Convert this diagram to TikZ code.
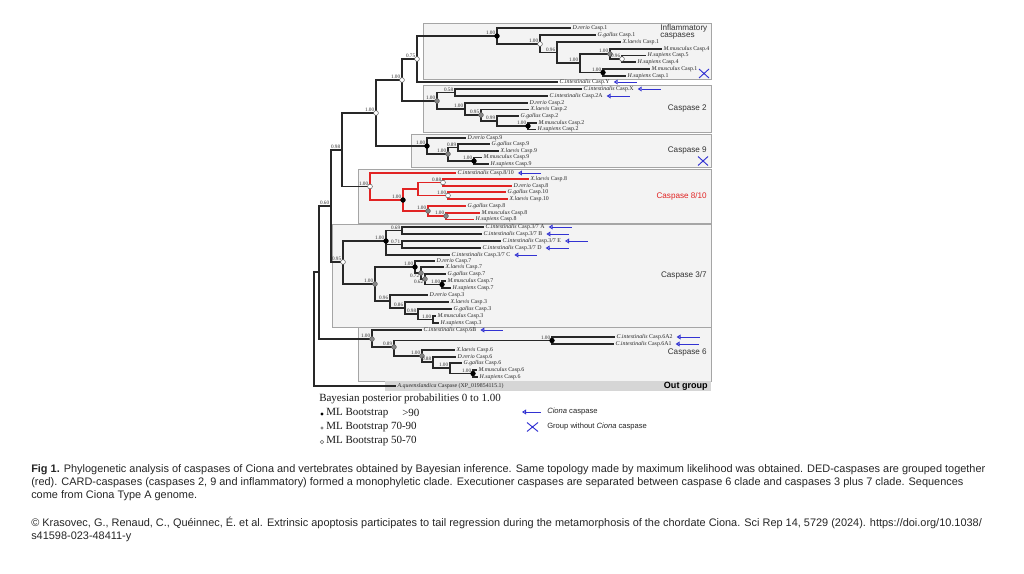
\documentclass[tikz,border=0pt]{standalone}
\usepackage{fontspec}
\setmainfont{Liberation Serif}
\setsansfont{Liberation Sans}
\usetikzlibrary{arrows.meta,calc}
\definecolor{ciblue}{RGB}{50,50,210}
\definecolor{dedred}{RGB}{225,35,35}
\definecolor{boxfill}{RGB}{243,243,243}
\definecolor{boxline}{RGB}{165,165,165}
\definecolor{outfill}{RGB}{214,214,214}
\definecolor{brc}{RGB}{40,40,40}
\definecolor{mkgrey}{RGB}{135,135,135}
\newcommand\myleaf[5]{\node[sp] (#1) at (#2,#3) {\textit{#4} #5};}
\begin{document}
\begin{tikzpicture}[x=0.75pt,y=-0.75pt,
  tp/.style={inner sep=0pt,minimum size=0pt,outer sep=0pt},
  br/.style={draw=brc,line width=1pt},
  rbr/.style={draw=dedred,line width=1pt},
  sp/.style={anchor=west,inner xsep=1pt,inner ysep=0pt,font=\fontsize{4.4}{5}\selectfont,text=black!85},
  bs/.style={inner sep=0pt,anchor=south east,font=\fontsize{3.9}{4}\selectfont,text=black!80},
  mk/.style={circle,inner sep=0pt,minimum size=3.6pt,line width=0.35pt},
  mkf/.style={mk,fill=black,draw=black},
  mkg/.style={mk,fill=mkgrey,draw=mkgrey!70!black},
  mko/.style={mk,fill=white,draw=black!70},
  cladebox/.style={draw=boxline,fill=boxfill,line width=0.5pt},
  clab/.style={anchor=east,inner sep=0pt,font=\sffamily\fontsize{6.1}{7}\selectfont,text=black!80},
  ciarr/.style={draw=ciblue,line width=0.7pt,{Triangle[open,length=3pt,width=3.6pt]}-},
  crossx/.style={draw=ciblue,line width=0.7pt},
  capt/.style={anchor=west,inner sep=0pt,font=\sffamily\fontsize{8.2}{9}\selectfont,text=black!85},
  lgs/.style={anchor=west,inner sep=0pt,font=\fontsize{8.25}{9}\selectfont,text=black!90},
  lgr/.style={anchor=west,inner sep=0pt,font=\sffamily\fontsize{5.7}{6}\selectfont,text=black!85},
]
\fill[white] (0,0) rectangle (1024,574);
\useasboundingbox (0,0) rectangle (1024,574);

% clade boxes
\draw[cladebox] (423,23) rectangle (711,79);
\draw[cladebox] (423,85) rectangle (711,132);
\draw[cladebox] (411,134) rectangle (711,167);
\draw[cladebox] (358,169) rectangle (711,223);
\draw[cladebox] (332,224) rectangle (711,327);
\draw[cladebox] (358,327) rectangle (711,381);
\fill[outfill] (385,381) rectangle (711,391);

% clade labels
\node[anchor=west,inner sep=0pt,font=\sffamily\fontsize{6.1}{7}\selectfont,text=black!80] (tInf1) at (660,28) {Inflammatory};
\node[anchor=west,inner sep=0pt,font=\sffamily\fontsize{6.1}{7}\selectfont,text=black!80] (tInf2) at (660,36) {caspases};
\node[clab] (tC2) at (707,109) {Caspase 2};
\node[clab] (tC9) at (707,151) {Caspase 9};
\node[clab,text=dedred] (tC810) at (707,196) {Caspase 8/10};
\node[clab] (tC37) at (707,275) {Caspase 3/7};
\node[clab] (tC6) at (707,353) {Caspase 6};
\node[clab,font=\sffamily\bfseries\fontsize{6.8}{7}\selectfont,text=black] (tOut) at (708,386) {Out group};
\draw[crossx] (699,69) -- (709,78) (699,78) -- (709,69);
\draw[crossx] (698,156.5) -- (708,165.5) (698,165.5) -- (708,156.5);

% internal nodes
\foreach \n/\x/\y in {R/314/329, N319/319/272, N331/331/206, N342/342/150, NA/376/113, NB/402/80,
  N075/417/59, INF/497/36, I2/540/44, I3/557/52.5, I4/580/63, I6/610/54, I5/622/59, I7/603/72.5,
  C2/437/101, C2a/455/92.5, C2b/465/109, C2c/481/115, C2d/497/121, C2e/528/126,
  C9/427/146, C9b/448/154, C9c/458/147.5, C9d/474/161,
  N810/370/186.5, E6/403/200, E3/418/189, E1/443/182.5, E2/448/195.5, E4/428/211, E5/446/216,
  N343/343/262, F0/386/241, F1/402/230.5, F2/402/244.5,
  G0/375/284, G1/415/267, G2/421/273, G3/425/279, G4/442/284.5,
  H1/390/301, H2/405/308, H3/418/314, H4/433/319.5,
  C6/372/339, K0/394/347, K1/552/340.5, K2/422/356, K3/433/362, K4/450/368, K5/473/373.5}
  {\node[tp] (\n) at (\x,\y) {};}

% leaves
\myleaf{Dr1}{571}{28}{D.rerio}{Casp.1}
\myleaf{Gg1}{596}{35}{G.gallus}{Casp.1}
\myleaf{Xl1}{621}{42}{X.laevis}{Casp.1}
\myleaf{Mm4}{662}{49}{M.musculus}{Casp.4}
\myleaf{Hs5}{646}{55.5}{H.sapiens}{Casp.5}
\myleaf{Hs4}{636}{62}{H.sapiens}{Casp.4}
\myleaf{Mm1}{650}{69}{M.musculus}{Casp.1}
\myleaf{Hs1}{626}{76}{H.sapiens}{Casp.1}
\myleaf{CiY}{558}{82}{C.intestinalis}{Casp.Y}
\myleaf{CiX}{582}{89}{C.intestinalis}{Casp.X}
\myleaf{Ci2A}{548}{96}{C.intestinalis}{Casp.2A}
\myleaf{Dr2}{528}{103}{D.rerio}{Casp.2}
\myleaf{Xl2}{529}{109.5}{X.laevis}{Casp.2}
\myleaf{Gg2}{519}{116}{G.gallus}{Casp.2}
\myleaf{Mm2}{537}{123}{M.musculus}{Casp.2}
\myleaf{Hs2}{536}{129.5}{H.sapiens}{Casp.2}
\myleaf{Dr9}{466}{138}{D.rerio}{Casp.9}
\myleaf{Gg9}{490}{144}{G.gallus}{Casp.9}
\myleaf{Xl9}{499}{151}{X.laevis}{Casp.9}
\myleaf{Mm9}{482}{157.5}{M.musculus}{Casp.9}
\myleaf{Hs9}{489}{164}{H.sapiens}{Casp.9}
\myleaf{Ci810}{456}{173}{C.intestinalis}{Casp.8/10}
\myleaf{Xl8}{529}{179}{X.laevis}{Casp.8}
\myleaf{Dr8}{512}{186}{D.rerio}{Casp.8}
\myleaf{Gg10}{506}{192}{G.gallus}{Casp.10}
\myleaf{Xl10}{508}{199}{X.laevis}{Casp.10}
\myleaf{Gg8}{466}{206}{G.gallus}{Casp.8}
\myleaf{Mm8}{480}{213}{M.musculus}{Casp.8}
\myleaf{Hs8}{474}{219.5}{H.sapiens}{Casp.8}
\myleaf{CiA}{484}{227}{C.intestinalis}{Casp.3/7 A}
\myleaf{CiB}{482}{234}{C.intestinalis}{Casp.3/7 B}
\myleaf{CiE}{501}{241}{C.intestinalis}{Casp.3/7 E}
\myleaf{CiD}{481}{248}{C.intestinalis}{Casp.3/7 D}
\myleaf{CiC}{450}{255}{C.intestinalis}{Casp.3/7 C}
\myleaf{Dr7}{435}{261}{D.rerio}{Casp.7}
\myleaf{Xl7}{444}{267}{X.laevis}{Casp.7}
\myleaf{Gg7}{446}{274}{G.gallus}{Casp.7}
\myleaf{Mm7}{446}{281}{M.musculus}{Casp.7}
\myleaf{Hs7}{451}{288}{H.sapiens}{Casp.7}
\myleaf{Dr3}{428}{295}{D.rerio}{Casp.3}
\myleaf{Xl3}{449}{302}{X.laevis}{Casp.3}
\myleaf{Gg3}{452}{309}{G.gallus}{Casp.3}
\myleaf{Mm3}{436}{316}{M.musculus}{Casp.3}
\myleaf{Hs3}{439}{323}{H.sapiens}{Casp.3}
\myleaf{Ci6B}{422}{330}{C.intestinalis}{Casp.6B}
\myleaf{Ci6A2}{615}{337}{C.intestinalis}{Casp.6A2}
\myleaf{Ci6A1}{614}{344}{C.intestinalis}{Casp.6A1}
\myleaf{Xl6}{455}{350}{X.laevis}{Casp.6}
\myleaf{Dr6}{456}{357}{D.rerio}{Casp.6}
\myleaf{Gg6}{462}{363}{G.gallus}{Casp.6}
\myleaf{Mm6}{477}{370}{M.musculus}{Casp.6}
\myleaf{Hs6}{478}{377}{H.sapiens}{Casp.6}
\myleaf{Out}{396}{386}{A.queenslandica}{Caspase (XP\_019854115.1)}

% branches (black)
\foreach \p/\c in {R/N319, R/Out, N319/N331, N319/C6, N331/N342, N331/N343, N342/NA, N342/N810,
  NA/NB, NA/C9, NB/N075, NB/C2, N075/INF, N075/CiY, INF/Dr1, INF/I2, I2/Gg1, I2/I3, I3/Xl1, I3/I4,
  I4/I6, I4/I7, I6/Mm4, I6/I5, I5/Hs5, I5/Hs4, I7/Mm1, I7/Hs1,
  C2/C2a, C2/C2b, C2a/CiX, C2a/Ci2A, C2b/Dr2, C2b/C2c, C2c/Xl2, C2c/C2d, C2d/Gg2, C2d/C2e, C2e/Mm2, C2e/Hs2,
  C9/Dr9, C9/C9b, C9b/C9c, C9b/C9d, C9c/Gg9, C9c/Xl9, C9d/Mm9, C9d/Hs9,
  N343/F0, N343/G0, F0/F1, F0/F2, F0/CiC, F1/CiA, F1/CiB, F2/CiE, F2/CiD,
  G0/G1, G0/H1, G1/Dr7, G1/G2, G2/Xl7, G2/G3, G3/Gg7, G3/G4, G4/Mm7, G4/Hs7,
  H1/Dr3, H1/H2, H2/Xl3, H2/H3, H3/Gg3, H3/H4, H4/Mm3, H4/Hs3,
  C6/Ci6B, C6/K0, K0/K1, K0/K2, K1/Ci6A2, K1/Ci6A1, K2/Xl6, K2/K3, K3/Dr6, K3/K4, K4/Gg6, K4/K5, K5/Mm6, K5/Hs6}
  {\draw[br] (\p) |- (\c.west);}
% branches (red, DED caspases 8/10)
\foreach \p/\c in {N810/Ci810, N810/E6, E6/E3, E6/E4, E3/E1, E3/E2, E1/Xl8, E1/Dr8, E2/Gg10, E2/Xl10,
  E4/Gg8, E4/E5, E5/Mm8, E5/Hs8}
  {\draw[rbr] (\p) |- (\c.west);}

% Ciona arrows
\foreach \c in {CiY,CiX,Ci2A,Ci810,CiA,CiB,CiE,CiD,CiC,Ci6B,Ci6A2,Ci6A1}
  {\draw[ciarr] ($(\c.east)+(2.5,0)$) -- ++(23,0);}

% node markers
\foreach \n in {INF,I7,C2e,C9,C9d,E6,F0,G1,G4,K1,K5} {\node[mkf] (m\n) at (\n) {};}
\foreach \n in {C2,C2c,C9b,E4,E5,G0,G2,G3,C6,K0,K2,I6} {\node[mkg] (m\n) at (\n) {};}
\foreach \n in {I2,I5,N075,NB,NA,N810,E1,E2,N343} {\node[mko] (m\n) at (\n) {};}

% support labels
\foreach \n/\t in {N075/0.75, NB/1.00, NA/1.00, N342/0.98, N331/0.60, INF/1.00, I2/1.00, I3/0.96, I4/1.00,
  I6/1.00, I5/0.96, I7/1.00, C2/1.00, C2a/0.58, C2b/1.00, C2c/0.95, C2d/0.99, C2e/1.00,
  C9/1.00, C9c/0.89, C9b/1.00, C9d/1.00, N810/1.00, E6/1.00, E1/0.88, E2/1.00, E4/1.00, E5/1.00,
  F1/0.69, F0/1.00, F2/0.71, N343/0.95, G0/1.00, G1/1.00, G4/1.00, H1/0.96, H2/0.86, H3/0.98, H4/1.00,
  C6/1.00, K0/0.89, K1/1.00, K2/1.00, K3/0.88, K4/1.00, K5/1.00}
  {\node[bs] (l\n) at ($(\n)+(-1.6,-0.9)$) {\t};}
\foreach \n/\t in {G2/0.72, G3/0.62}
  {\node[bs,anchor=north east] (l\n) at ($(\n)+(-1.6,1.2)$) {\t};}

% legend
\node[lgs] (lgT) at (319,399) {Bayesian posterior probabilities 0 to 1.00};
\node[circle,inner sep=0pt,minimum size=2.6pt,fill=black] (lgm1) at (322,414) {};
\node[circle,inner sep=0pt,minimum size=2.6pt,fill=mkgrey] (lgm2) at (322,428) {};
\node[circle,inner sep=0pt,minimum size=2.6pt,draw=black!60,line width=0.3pt,fill=white] (lgm3) at (322,442) {};
\node[lgs] (lg1) at (326,413) {ML Bootstrap};
\node[lgs] (lg1b) at (402,413) {>90};
\node[lgs] (lg2) at (326,427) {ML Bootstrap 70-90};
\node[lgs] (lg3) at (326,441) {ML Bootstrap 50-70};
\coordinate (lgaS) at (522,412);
\coordinate (lgaE) at (541,412);
\draw[ciarr] (lgaS) -- (lgaE);
\node[lgr] (lgr1) at (547,412) {\textit{Ciona} caspase};
\draw[crossx] (527,422.5) -- (538,431.5) (527,431.5) -- (538,422.5);
\node[lgr] (lgr2) at (547,427) {Group without \textit{Ciona} caspase};

% caption
\node[capt] (cap1) at (31,470) {\textbf{Fig 1.} Phylogenetic analysis of caspases of Ciona and vertebrates obtained by Bayesian inference. Same topology made by maximum likelihood was obtained. DED-caspases are grouped together};
\node[capt] (cap2) at (31,483) {(red). CARD-caspases (caspases 2, 9 and inflammatory) formed a monophyletic clade. Executioner caspases are separated between caspase 6 clade and caspases 3 plus 7 clade. Sequences};
\node[capt] (cap3) at (31,496) {come from Ciona Type A genome.};
\node[capt] (cap4) at (31,523) {© Krasovec, G., Renaud, C., Quéinnec, É. et al. Extrinsic apoptosis participates to tail regression during the metamorphosis of the chordate Ciona. Sci Rep 14, 5729 (2024). https://doi.org/10.1038/};
\node[capt] (cap5) at (31,537) {s41598-023-48411-y};
\end{tikzpicture}
\end{document}
